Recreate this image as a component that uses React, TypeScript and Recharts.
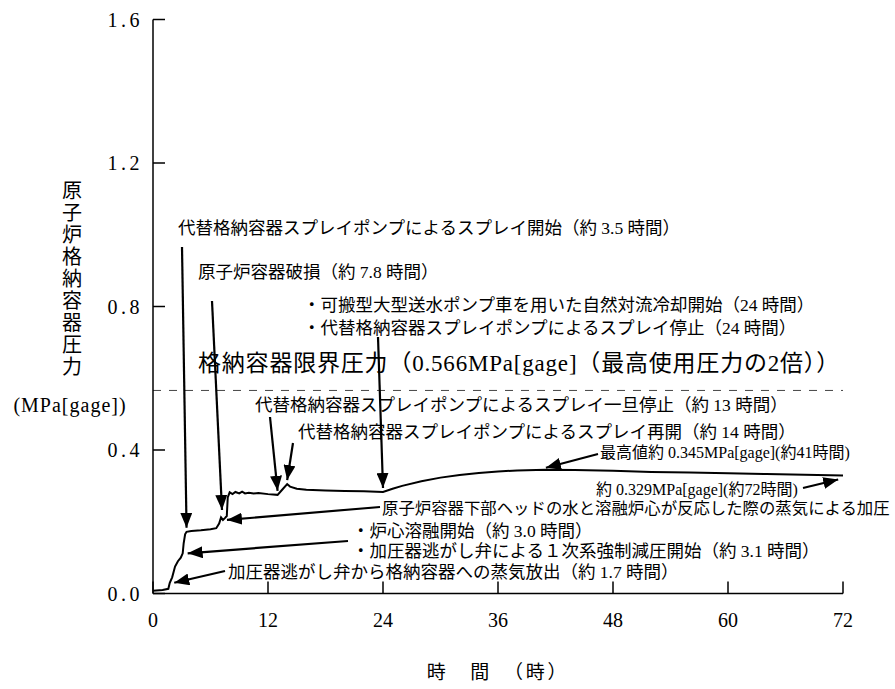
import React from 'react';
import { LineChart, Line, XAxis, YAxis, ReferenceLine } from 'recharts';

// 経過時間 (時) と 原子炉格納容器圧力 (MPa[gage])
const hours = [
  0, 1.0, 1.6, 1.75, 2.0, 2.3, 2.6, 2.9, 3.1, 3.2, 3.35, 3.5, 4, 5, 6, 6.6, 6.9, 7.1, 7.3, 7.5,
  7.7, 7.8, 8.0, 8.3, 8.6, 9.0, 9.3, 9.6, 10, 10.5, 11, 12, 13, 13.5, 14, 14.3, 15, 16, 18, 20,
  22, 24, 25, 26, 28, 30, 32, 34, 36, 38, 41, 44, 48, 52, 56, 60, 64, 68, 72,
];
const pressure = [
  0.008, 0.01, 0.013, 0.03, 0.045, 0.075, 0.09, 0.1, 0.112, 0.14, 0.165, 0.172, 0.174, 0.176,
  0.179, 0.182, 0.195, 0.212, 0.205, 0.21, 0.216, 0.268, 0.282, 0.277, 0.283, 0.279, 0.284,
  0.279, 0.281, 0.279, 0.28, 0.277, 0.275, 0.29, 0.305, 0.298, 0.292, 0.289, 0.287, 0.286,
  0.285, 0.283, 0.292, 0.3, 0.313, 0.323, 0.33, 0.336, 0.34, 0.343, 0.345, 0.344, 0.342,
  0.339, 0.337, 0.335, 0.333, 0.331, 0.329,
];
const xTicks = [0, 12, 24, 36, 48, 60, 72];
const yTicks = [0, 0.4, 0.8, 1.2, 1.6];
const LIMIT = 0.566;

const yTitle = ['原', '子', '炉', '格', '納', '容', '器', '圧', '力'];

const W = 895;
const H = 689;
const LEFT = 153;
const RIGHT = 843;
const TOP = 19.5;
const BOTTOM = 593.5;
const Y_AXIS_W = 60;
const X_AXIS_H = 30;

const FONT = "'Liberation Serif', 'Noto Sans CJK JP', serif";

const data = hours.map((h, i) => ({ h, p: pressure[i] }));

// overlay helpers (same plot box as the chart)
const px = (t: number) => LEFT + (t / 72) * (RIGHT - LEFT);
const py = (v: number) => BOTTOM - (v / 1.6) * (BOTTOM - TOP);

function YTick({ x, y, payload }: any) {
  return (
    <g>
      <line x1={x} x2={x + 12} y1={y} y2={y} stroke="#000" strokeWidth={1.5} />
      <text x={x - 10} y={y} dy="0.36em" textAnchor="end" fontSize={20} fontFamily={FONT} letterSpacing={3.5} fill="#000">
        {payload.value.toFixed(1)}
      </text>
    </g>
  );
}

function XTick({ x, y, payload }: any) {
  return (
    <g>
      <line x1={x} x2={x} y1={y} y2={y - 12} stroke="#000" strokeWidth={1.5} />
      <text x={x} y={y + 33} textAnchor="middle" fontSize={20} fontFamily={FONT} fill="#000">
        {payload.value}
      </text>
    </g>
  );
}

type Note = { x: number; y: number; text: string; size?: number; ls?: number };

const notes: Note[] = [
  { x: 178, y: 228, text: '代替格納容器スプレイポンプによるスプレイ開始（約 3.5 時間）', size: 17.5 },
  { x: 198, y: 272, text: '原子炉容器破損（約 7.8 時間）', size: 17.5 },
  { x: 303, y: 305, text: '・可搬型大型送水ポンプ車を用いた自然対流冷却開始（24 時間）', size: 17.5 },
  { x: 303, y: 328, text: '・代替格納容器スプレイポンプによるスプレイ停止（24 時間）', size: 17.5 },
  { x: 198, y: 363, text: '格納容器限界圧力（0.566MPa[gage]（最高使用圧力の2倍））', size: 23, ls: 0.8 },
  { x: 255, y: 405, text: '代替格納容器スプレイポンプによるスプレイ一旦停止（約 13 時間）', size: 17.5 },
  { x: 298, y: 432, text: '代替格納容器スプレイポンプによるスプレイ再開（約 14 時間）', size: 17.5 },
  { x: 600, y: 452, text: '最高値約 0.345MPa[gage](約41時間)', size: 16 },
  { x: 596, y: 489, text: '約 0.329MPa[gage](約72時間)', size: 16 },
  { x: 382, y: 508, text: '原子炉容器下部ヘッドの水と溶融炉心が反応した際の蒸気による加圧', size: 16.4 },
  { x: 352, y: 531, text: '・炉心溶融開始（約 3.0 時間）', size: 17.5 },
  { x: 352, y: 551, text: '・加圧器逃がし弁による１次系強制減圧開始（約 3.1 時間）', size: 17.5 },
  { x: 228, y: 572, text: '加圧器逃がし弁から格納容器への蒸気放出（約 1.7 時間）', size: 17.5 },
];

// arrows: start in px, tip pointing at the curve
const arrows = [
  { x1: 182, y1: 247, x2: px(3.5), y2: py(0.172) - 4 },
  { x1: 212, y1: 301, x2: px(7.2), y2: py(0.216) - 6 },
  { x1: 378, y1: 337, x2: px(24), y2: py(0.283) - 4 },
  { x1: 270, y1: 417, x2: px(13), y2: py(0.275) - 4 },
  { x1: 293, y1: 443, x2: px(14), y2: py(0.305) - 4 },
  { x1: 598, y1: 454, x2: px(41), y2: py(0.345) - 2 },
  { x1: 803, y1: 488, x2: px(71.5), y2: py(0.329) + 4 },
  { x1: 380, y1: 507, x2: px(7.3) + 4, y2: py(0.205) },
  { x1: 348, y1: 541, x2: px(3.2) + 4, y2: py(0.112) },
  { x1: 225, y1: 571, x2: px(1.8) + 4, y2: py(0.03) },
];

export default function App() {
  return (
    <div style={{ position: 'absolute', left: 0, top: 0, width: W, height: H, background: '#fff' }}>
      <LineChart
        width={W}
        height={H}
        data={data}
        margin={{ top: TOP, right: W - RIGHT, bottom: H - BOTTOM - X_AXIS_H, left: LEFT - Y_AXIS_W }}
      >
        <XAxis
          dataKey="h"
          type="number"
          domain={[0, 72]}
          ticks={xTicks}
          height={X_AXIS_H}
          tickSize={0}
          tickMargin={0}
          tickLine={false}
          axisLine={{ stroke: '#000', strokeWidth: 1.5 }}
          tick={<XTick />}
          interval={0}
        />
        <YAxis
          type="number"
          domain={[0, 1.6]}
          ticks={yTicks}
          width={Y_AXIS_W}
          tickSize={0}
          tickMargin={0}
          tickLine={false}
          axisLine={{ stroke: '#000', strokeWidth: 1.5 }}
          tick={<YTick />}
          interval={0}
        />
        <ReferenceLine y={LIMIT} stroke="#444" strokeWidth={1} strokeDasharray="8 8" />
        <Line
          dataKey="p"
          type="linear"
          stroke="#000"
          strokeWidth={2}
          dot={false}
          isAnimationActive={false}
        />
      </LineChart>

      <svg width={W} height={H} style={{ position: 'absolute', left: 0, top: 0, pointerEvents: 'none' }}>
        <defs>
          <marker id="ah" viewBox="0 0 15 12" refX="15" refY="6" markerWidth="15" markerHeight="12"
            markerUnits="userSpaceOnUse" orient="auto">
            <path d="M0,0 L15,6 L0,12 z" fill="#000" />
          </marker>
        </defs>
        {arrows.map((a, i) => (
          <line key={i} x1={a.x1} y1={a.y1} x2={a.x2} y2={a.y2} stroke="#000" strokeWidth={2.2} markerEnd="url(#ah)" />
        ))}
        {notes.map((n, i) => (
          <text key={i} x={n.x} y={n.y} dy="0.36em" fontSize={n.size ?? 17} letterSpacing={n.ls ?? 0}
            fontFamily={FONT} fill="#000">
            {n.text}
          </text>
        ))}
        <text x={72} fontSize={20} fontFamily={FONT} textAnchor="middle" fill="#000">
          {yTitle.map((c, i) => (
            <tspan key={i} x={72} y={198 + i * 22}>{c}</tspan>
          ))}
        </text>
        <text x={70} y={405} dy="0.36em" textAnchor="middle" fontSize={20} letterSpacing={1} fontFamily={FONT} fill="#000">
          (MPa[gage])
        </text>
        <text x={498} y={672} dy="0.36em" textAnchor="middle" fontSize={19} letterSpacing={2.7} fontFamily={FONT}
          fill="#000">
          時　間　（時）
        </text>
      </svg>
    </div>
  );
}
